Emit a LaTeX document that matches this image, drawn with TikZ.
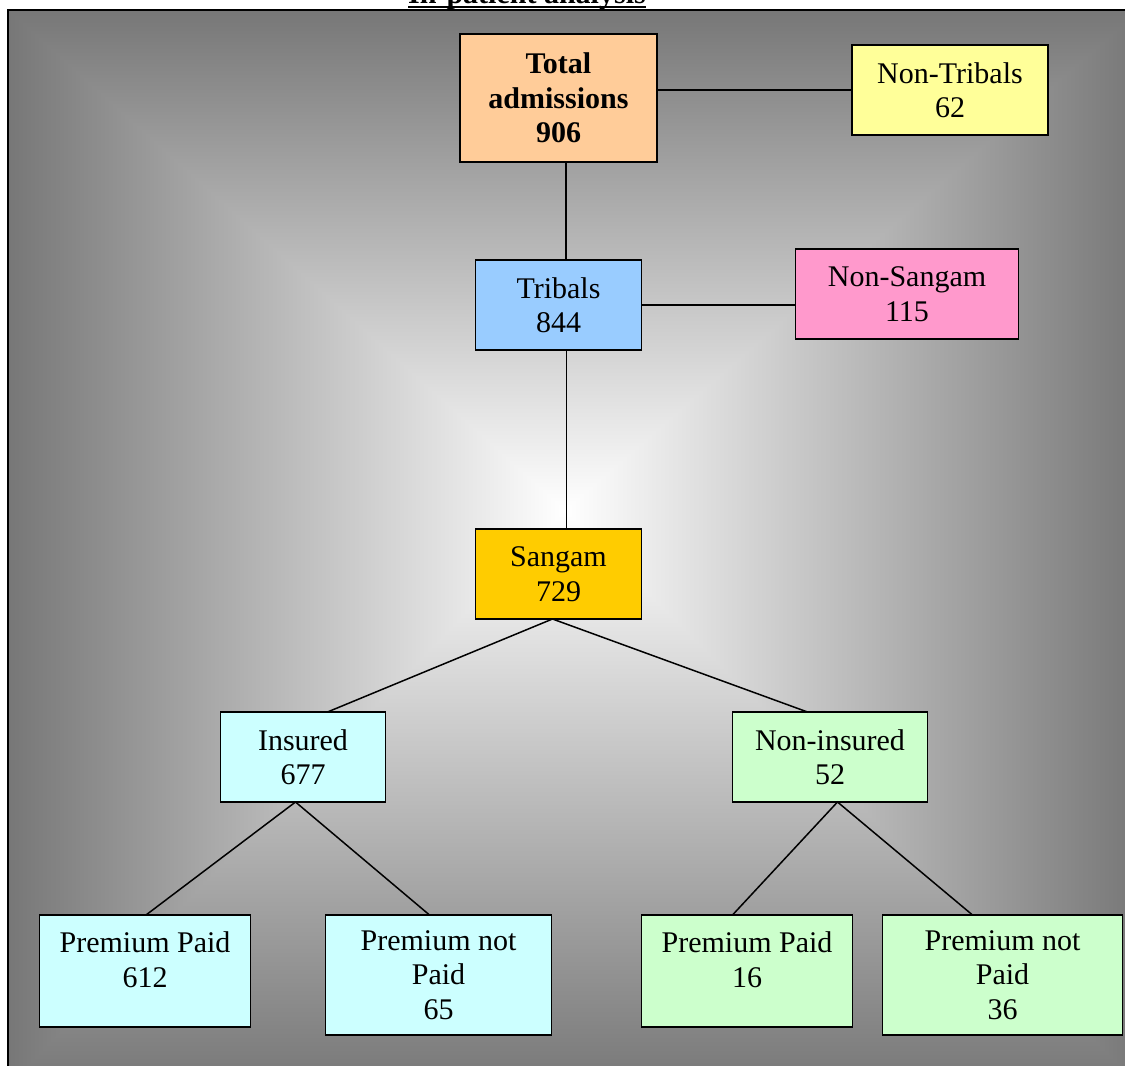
\documentclass[tikz,border=0pt]{standalone}
\usepackage{fontspec}
\setmainfont{Liberation Serif}
\usetikzlibrary{positioning}
\definecolor{framegray}{RGB}{119,119,119}
\definecolor{totalpeach}{RGB}{255,204,153}
\definecolor{nontribyellow}{RGB}{255,255,153}
\definecolor{tribalblue}{RGB}{153,204,255}
\definecolor{nonsangampink}{RGB}{255,153,204}
\definecolor{sangamgold}{RGB}{255,204,0}
\definecolor{insuredcyan}{RGB}{204,255,255}
\definecolor{noninsgreen}{RGB}{204,255,204}

\begin{document}
\begin{tikzpicture}[
        x=1pt, y=1pt,
        box/.style={draw=black, line width=1.6pt, inner sep=0pt, outer sep=0pt, align=center, font=\fontsize{30}{34.5}\selectfont, minimum height=90pt},
        link/.style={line width=1.5pt},
        heading/.style={inner sep=0pt, anchor=base, font=\fontsize{30}{34.5}\selectfont\bfseries}
    ]
        \clip (0,0) rectangle (1125,1066);

        % shaded frame, darker towards the edges
        \coordinate (mid) at (565,556);
        \coordinate (tl) at (8,1056);
        \coordinate (tr) at (1140,1056);
        \coordinate (bl) at (8,-20);
        \coordinate (br) at (1140,-20);
        \shade[left color=framegray, right color=white] (8,-20) rectangle (565,1056);
        \shade[left color=white, right color=framegray] (565,-20) rectangle (1140,1056);
        \begin{scope}
            \clip (mid) -- (tl) -- (tr) -- cycle;
            \shade[top color=framegray, bottom color=white] (8,556) rectangle (1140,1056);
        \end{scope}
        \begin{scope}
            \clip (mid) -- (bl) -- (br) -- cycle;
            \shade[top color=white, bottom color=framegray] (8,-20) rectangle (1140,556);
        \end{scope}
        \draw[line width=1.6pt] (bl) rectangle (tr);

        \node[heading] (title) at (527,1062) {In-patient analysis};
        \draw[line width=2.2pt] ([yshift=-3pt]title.base west) -- ([yshift=-3pt]title.base east);

        \node[box, fill=totalpeach, minimum width=197pt, minimum height=128pt, font=\fontsize{30}{34.5}\selectfont\bfseries] (total) at (558.5,968) {Total\\admissions\\906};
        \node[box, fill=nontribyellow, minimum width=196pt, right=195pt of total, yshift=8pt] (nontribal) {Non-Tribals\\62};
        \node[box, fill=tribalblue, minimum width=166pt, below=98pt of total] (tribal) {Tribals\\844};
        \node[box, fill=nonsangampink, minimum width=223pt, right=154pt of tribal, yshift=11pt] (nonsangam) {Non-Sangam\\115};
        \node[box, fill=sangamgold, minimum width=166pt, below=179pt of tribal] (sangam) {Sangam\\729};
        \node[box, fill=insuredcyan, minimum width=165pt, below=93pt of sangam, xshift=-255.5pt] (insured) {Insured\\677};
        \node[box, fill=noninsgreen, minimum width=195pt, below=93pt of sangam, xshift=271.5pt] (noninsured) {Non-insured\\52};
        \node[box, fill=insuredcyan, minimum width=211pt, minimum height=112pt, below=113pt of insured, xshift=-158pt] (inspaid) {Premium Paid\\612\\[-12pt]\mbox{}};
        \node[box, fill=insuredcyan, minimum width=226pt, minimum height=120pt, below=113pt of insured, xshift=135.5pt] (insunpaid) {Premium not\\Paid\\65};
        \node[box, fill=noninsgreen, minimum width=211pt, minimum height=112pt, below=113pt of noninsured, xshift=-83pt] (noninspaid) {Premium Paid\\16\\[-12pt]\mbox{}};
        \node[box, fill=noninsgreen, minimum width=240pt, minimum height=120pt, below=113pt of noninsured, xshift=172.5pt] (noninsunpaid) {Premium not\\Paid\\36};

        \draw[link] (nontribal.west) -- (nontribal.west -| total.east);
        \draw[link] ([xshift=7.5pt]total.south) -- ([xshift=7.5pt]total.south |- tribal.north);
        \draw[link] (tribal.east) -- (tribal.east -| nonsangam.west);
        \draw[link] ([xshift=8pt]tribal.south) -- ([xshift=8pt]sangam.north);
        \draw[link] ([xshift=24.5pt]insured.north) -- ([xshift=-6pt]sangam.south) -- ([xshift=-22.5pt]noninsured.north);
        \draw[link] ([xshift=1pt]inspaid.north) -- ([xshift=-7.5pt]insured.south) -- ([xshift=-9pt]insunpaid.north);
        \draw[link] ([xshift=-14.5pt]noninspaid.north) -- ([xshift=7.5pt]noninsured.south) -- ([xshift=-30pt]noninsunpaid.north);
    \end{tikzpicture}
\end{document}
